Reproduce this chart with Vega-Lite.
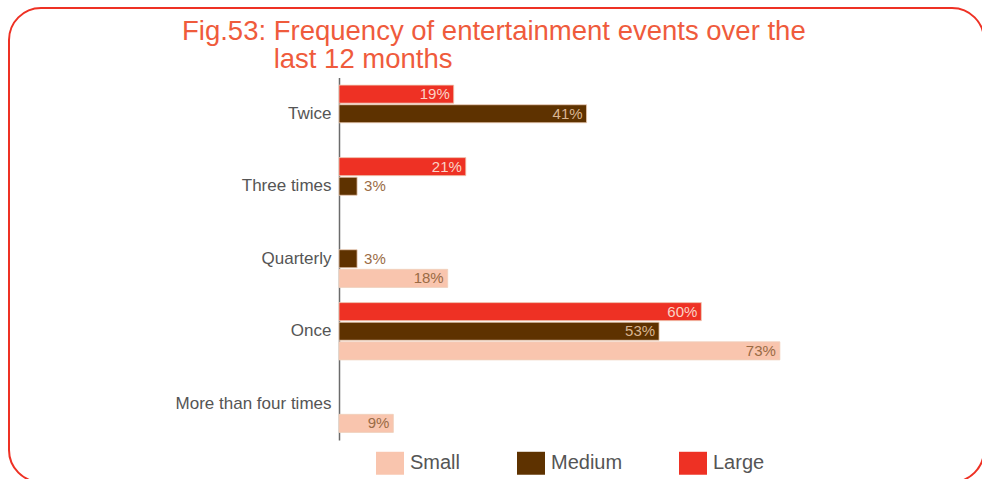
{
  "$schema": "https://vega.github.io/schema/vega-lite/v6.json",
  "autosize": {"type": "none"},
  "padding": {"left": 9, "top": 8, "right": 0, "bottom": 0},
  "width": 975,
  "height": 474,
  "background": "white",
  "config": {
    "view": {"stroke": "#EE3124", "strokeWidth": 2, "cornerRadius": 32, "fill": "white"},
    "font": "Liberation Sans"
  },
  "title": {
    "text": ["Fig.53: Frequency of entertainment events over the", "\u200b\u00a0\u00a0\u00a0\u00a0\u00a0\u00a0\u00a0\u00a0\u00a0\u00a0\u00a0\u00a0last 12 months"],
    "anchor": "start",
    "dx": 173,
    "offset": -65,
    "fontSize": 27.5,
    "fontWeight": "normal",
    "color": "#EF5B3C",
    "lineHeight": 28,
    "font": "Liberation Sans"
  },
  "data": {
    "values": [
      {"frequency": "Twice", "size": "Large", "pct": 0.19},
      {"frequency": "Twice", "size": "Medium", "pct": 0.41},
      {"frequency": "Three times", "size": "Large", "pct": 0.21},
      {"frequency": "Three times", "size": "Medium", "pct": 0.03},
      {"frequency": "Quarterly", "size": "Medium", "pct": 0.03},
      {"frequency": "Quarterly", "size": "Small", "pct": 0.18},
      {"frequency": "Once", "size": "Large", "pct": 0.60},
      {"frequency": "Once", "size": "Medium", "pct": 0.53},
      {"frequency": "Once", "size": "Small", "pct": 0.73},
      {"frequency": "More than four times", "size": "Small", "pct": 0.09}
    ]
  },
  "encoding": {
    "y": {
      "field": "frequency",
      "type": "nominal",
      "sort": ["Twice", "Three times", "Quarterly", "Once", "More than four times"],
      "scale": {"range": [69.5, 432], "paddingInner": 0.21, "paddingOuter": 0.105},
      "axis": {
        "title": null,
        "offset": -330,
        "domainColor": "#6b6b6b",
        "domainWidth": 1.5,
        "ticks": false,
        "grid": false,
        "labelFontSize": 17,
        "labelColor": "#555555",
        "labelPadding": 8,
        "labelFont": "Liberation Sans"
      }
    },
    "yOffset": {
      "field": "size",
      "type": "nominal",
      "sort": ["Large", "Medium", "Small"],
      "scale": {"paddingInner": 0.08}
    },
    "x": {
      "field": "pct",
      "type": "quantitative",
      "scale": {"domain": [-0.5464, 1.068], "zero": false, "nice": false},
      "axis": null
    }
  },
  "layer": [
    {
      "mark": {"type": "bar", "stroke": "#efcfba", "strokeWidth": 0.8},
      "encoding": {
        "color": {
          "field": "size",
          "type": "nominal",
          "scale": {"domain": ["Small", "Medium", "Large"], "range": ["#F9C5AE", "#5E3200", "#EE3124"]},
          "legend": {
            "orient": "none",
            "legendX": 367,
            "legendY": 441,
            "direction": "horizontal",
            "title": null,
            "symbolType": "M-1,-0.82L1,-0.82L1,0.82L-1,0.82Z",
            "symbolSize": 784,
            "symbolStrokeWidth": 0,
            "symbolOpacity": 1,
            "labelFontSize": 20,
            "labelColor": "#555555",
            "labelFont": "Liberation Sans",
            "labelOffset": 6,
            "columnPadding": 56
          }
        }
      }
    },
    {
      "transform": [{"filter": "datum.pct >= 0.05"}],
      "mark": {"type": "text", "align": "right", "baseline": "middle", "dx": -4, "fontSize": 15, "font": "Liberation Sans"},
      "encoding": {
        "text": {"field": "pct", "type": "quantitative", "format": ".0%"},
        "color": {
          "condition": [
            {"test": "datum.size === 'Small'", "value": "#9a6b45"},
            {"test": "datum.size === 'Medium'", "value": "#d9b592"}
          ],
          "value": "#fad3c6"
        }
      }
    },
    {
      "transform": [{"filter": "datum.pct < 0.05"}],
      "mark": {"type": "text", "align": "left", "baseline": "middle", "dx": 7, "fontSize": 15, "font": "Liberation Sans", "color": "#9a6b45"},
      "encoding": {
        "text": {"field": "pct", "type": "quantitative", "format": ".0%"}
      }
    }
  ]
}
